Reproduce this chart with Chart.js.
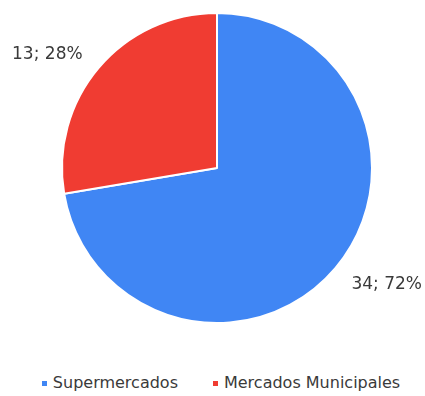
<!DOCTYPE html>
<html>
<head>
<meta charset="utf-8">
<script src="https://cdn.jsdelivr.net/npm/chart.js@4"></script>
<style>
  html, body { margin: 0; padding: 0; background: #fff; }
  .wrap { position: relative; width: 425px; height: 396px; }
  .canvas-box { position: absolute; left: 0; top: 0; width: 425px; height: 340px; }
  .legend {
    position: absolute; left: 0; width: 442px; top: 373px;
    display: flex; justify-content: center; gap: 35px;
    font-family: "DejaVu Sans", Verdana, sans-serif; font-size: 16px; color: #3a3a3a;
  }
  .legend span { display: flex; align-items: center; }
  .legend i { display: inline-block; width: 5px; height: 5px; margin-right: 6px; margin-top: 2px; }
</style>
</head>
<body>
<div class="wrap">
  <div class="canvas-box"><canvas id="pie"></canvas></div>
  <div class="legend" id="legend"></div>
</div>
<script>
const categories = ['Supermercados', 'Mercados Municipales'];
const counts = [34, 13];
const colors = ['#4086f4', '#f03c32'];

const total = counts.reduce((a, b) => a + b, 0);

// value labels placed just outside each slice
const outsideLabels = {
  id: 'outsideLabels',
  afterDatasetsDraw(chart) {
    const ctx = chart.ctx;
    const meta = chart.getDatasetMeta(0);
    ctx.save();
    ctx.font = '17px "DejaVu Sans", Verdana, sans-serif';
    ctx.fillStyle = '#3a3a3a';
    ctx.textBaseline = 'middle';
    meta.data.forEach((arc, i) => {
      const mid = (arc.startAngle + arc.endAngle) / 2;
      const r = arc.outerRadius + 21;
      const x = arc.x + Math.cos(mid) * r;
      const y = arc.y + Math.sin(mid) * r + (Math.sin(mid) > 0 ? 3 : 0);
      ctx.textAlign = Math.cos(mid) >= 0 ? 'left' : 'right';
      const pct = Math.round(counts[i] / total * 100);
      ctx.fillText(counts[i] + '; ' + pct + '%', x, y);
    });
    ctx.restore();
  }
};

new Chart(document.getElementById('pie'), {
  type: 'pie',
  data: {
    labels: categories,
    datasets: [{
      data: counts,
      backgroundColor: colors,
      borderColor: '#ffffff',
      borderWidth: 2,
      radius: 155
    }]
  },
  options: {
    responsive: true,
    maintainAspectRatio: false,
    animation: false,
    layout: { padding: { left: 9, bottom: 4 } },
    plugins: {
      legend: { display: false },
      tooltip: { enabled: false }
    }
  },
  plugins: [outsideLabels]
});

const legend = document.getElementById('legend');
categories.forEach((name, i) => {
  const item = document.createElement('span');
  item.innerHTML = '<i style="background:' + colors[i] + '"></i>' + name;
  legend.appendChild(item);
});
</script>
</body>
</html>
